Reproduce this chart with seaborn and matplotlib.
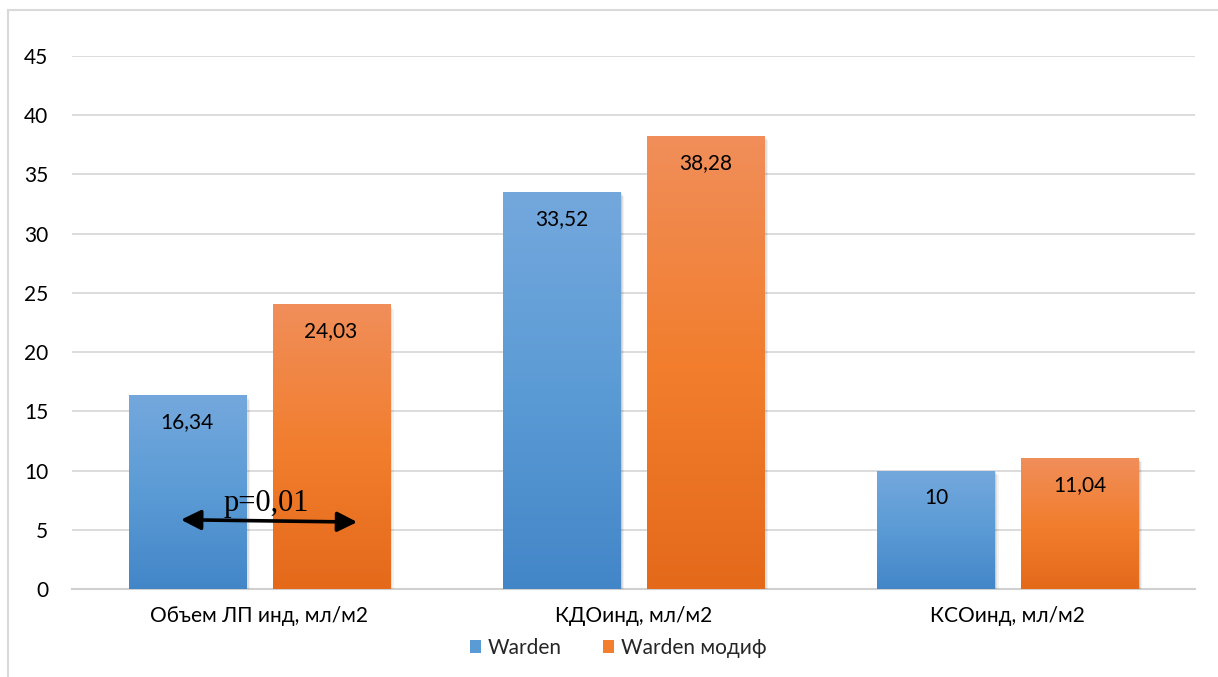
import numpy as np
import pandas as pd
import matplotlib
matplotlib.use("Agg")
import matplotlib.pyplot as plt
from matplotlib.lines import Line2D
from matplotlib.patches import Patch
import matplotlib.patheffects as pe
from matplotlib.colors import to_rgb
import seaborn as sns

# --- data ---
categories = ["Объем ЛП инд, мл/м2", "КДОинд, мл/м2", "КСОинд, мл/м2"]
series_names = ["Warden", "Warden модиф"]
warden = [16.34, 33.52, 10]
warden_mod = [24.03, 38.28, 11.04]
y_ticks = [0, 5, 10, 15, 20, 25, 30, 35, 40, 45]
p_text = "p=0,01"

df = pd.DataFrame({
    "category": categories * 2,
    "group": [series_names[0]] * 3 + [series_names[1]] * 3,
    "value": warden + warden_mod,
})

sns.set_style("white")
plt.rcParams["font.family"] = ["Lato", "DejaVu Sans"]

blue_stops = ["#74a8dd", "#5b9bd5", "#4386c8"]     # top, middle, bottom
orange_stops = ["#f08e5a", "#f27e2e", "#e46a1a"]

fig = plt.figure(figsize=(12.18, 6.77), dpi=100)
W, H = 1218, 677
ax = fig.add_axes([72 / W, 1 - 589 / H, (1195 - 72) / W, (589 - 56) / H])

sns.barplot(data=df, x="category", y="value", hue="group",
            palette=[blue_stops[1], orange_stops[1]],
            width=0.768, gap=0.186, legend=False, ax=ax,
            linewidth=0, zorder=3)

ax.set_ylim(0, 45)
ax.set_xlim(-0.5, 2.5)


def gradient_image(stops, n=256):
    cols = np.array([to_rgb(c) for c in stops])
    t = np.linspace(0, 1, n)
    pos = np.linspace(0, 1, len(cols))
    rgb = np.stack([np.interp(t, pos, cols[:, k]) for k in range(3)], axis=-1)
    # row 0 = bottom (origin='lower'), so reverse top->bottom order
    return rgb[::-1][:, None, :]


shadow = [pe.SimplePatchShadow(offset=(d, -d), shadow_rgbFace="#000000", alpha=a)
          for d, a in ((3.0, 0.05), (2.0, 0.07), (1.0, 0.09))] + [pe.Normal()]

for container, stops, vals in zip(ax.containers, [blue_stops, orange_stops],
                                  [warden, warden_mod]):
    img = gradient_image(stops)
    for bar, v in zip(container.patches, vals):
        x0, y0 = bar.get_x(), bar.get_y()
        w, h = bar.get_width(), bar.get_height()
        bar.set_path_effects(shadow)
        im = ax.imshow(img, extent=[x0, x0 + w, y0, y0 + h], aspect="auto",
                       origin="lower", zorder=3.5, interpolation="bilinear")
        im.set_clip_path(bar)
        label = f"{v:g}".replace(".", ",")
        ax.annotate(label, xy=(x0 + w / 2, y0 + h), xytext=(0, -19.5),
                    textcoords="offset points", ha="center", va="center",
                    fontsize=15, color="#000000", zorder=5)

ax.set_xlim(-0.5, 2.5)
ax.set_ylim(0, 45)
ax.set_yticks(y_ticks)
ax.set_xlabel("")
ax.set_ylabel("")
ax.yaxis.grid(True, color="#d9d9d9", linewidth=1.3, zorder=0)
ax.set_axisbelow(True)
for s in ["top", "right", "left"]:
    ax.spines[s].set_visible(False)
ax.spines["bottom"].set_color("#d0d0d0")
ax.spines["bottom"].set_linewidth(1.5)
ax.tick_params(axis="y", length=0, pad=17, labelsize=15, colors="#000000")
ax.tick_params(axis="x", length=0, pad=12, labelsize=15, colors="#000000")

# significance annotation between first pair
ax.annotate("", xy=(0.262, 5.65), xytext=(-0.209, 5.85),
            arrowprops=dict(arrowstyle="<|-|>", color="black", lw=2.6,
                            mutation_scale=30, shrinkA=0, shrinkB=0),
            zorder=6)
ax.text(0.019, 6.6, p_text, ha="center", va="baseline",
        fontsize=22, family="Liberation Serif", color="black", zorder=6)

# legend
handles = [Patch(facecolor=blue_stops[1], edgecolor="none"),
           Patch(facecolor=orange_stops[1], edgecolor="none")]
fig.legend(handles, series_names, loc="center", bbox_to_anchor=(618 / W, 1 - 648 / H),
           ncol=2, frameon=False, fontsize=15, handlelength=0.55, handleheight=0.55,
           handletextpad=0.3, columnspacing=2.0, borderpad=0)

# outer chart frame
fig.add_artist(Line2D([8 / W, 1], [1 - 10 / H, 1 - 10 / H], color="#d9d9d9", lw=1.5))
fig.add_artist(Line2D([8 / W, 8 / W], [0, 1 - 10 / H], color="#d9d9d9", lw=1.5))

fig.savefig("out.png", dpi=100)
